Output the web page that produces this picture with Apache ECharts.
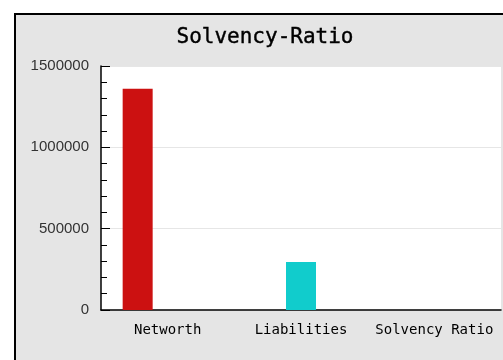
<!DOCTYPE html>
<html>
<head>
<meta charset="utf-8">
<script src="https://cdn.jsdelivr.net/npm/echarts@6/dist/echarts.min.js"></script>
<style>
  html, body { margin: 0; padding: 0; background: #ffffff; }
  #chart { width: 503px; height: 360px; }
</style>
</head>
<body>
<div id="chart"></div>
<script>
// Category names along the x axis
const categories = ['Networth', 'Liabilities', 'Solvency Ratio'];
// One series per measure; each holds a value only in its own category
const networthValues = [1360000, null, null];
const liabilityValues = [null, 295000, null];
const ratioValues = [null, null, 4.61];
// Y axis range and step
const yMin = 0;
const yMax = 1500000;
const yStep = 500000;

const chart = echarts.init(document.getElementById('chart'), null, { renderer: 'canvas' });

const mono = 'DejaVu Sans Mono';

chart.setOption({
  backgroundColor: '#ffffff',
  animation: false,
  graphic: [{
    type: 'rect',
    z: -10,
    shape: { x: 15, y: 14, width: 500, height: 360 },
    style: { fill: '#e5e5e5', stroke: '#000000', lineWidth: 2 }
  }],
  title: {
    text: 'Solvency-Ratio',
    left: 260,
    top: 22,
    textAlign: 'center',
    textStyle: {
      fontFamily: mono, fontSize: 21, fontWeight: 'normal', color: '#000000',
      textBorderColor: '#000000', textBorderWidth: 0.4
    }
  },
  grid: {
    left: 101, top: 66, right: 2, bottom: 50,
    show: true, backgroundColor: '#ffffff', borderWidth: 0
  },
  xAxis: {
    type: 'category',
    data: categories,
    axisLine: { lineStyle: { color: '#000000', width: 1.5 } },
    axisTick: { inside: true, length: 7, alignWithLabel: false, lineStyle: { color: '#000000' } },
    axisLabel: { interval: 0, fontFamily: mono, fontSize: 14, color: '#000000', margin: 13 },
    splitLine: { show: false }
  },
  yAxis: {
    type: 'value',
    min: yMin, max: yMax, interval: yStep,
    axisLine: { show: true, lineStyle: { color: '#000000', width: 1.5 } },
    axisTick: { show: true, inside: true, length: 9, lineStyle: { color: '#000000' } },
    minorTick: { show: true, splitNumber: 5, length: 6, lineStyle: { color: '#000000' } },
    axisLabel: {
      fontFamily: 'Liberation Sans', fontSize: 15, color: '#333333', margin: 12,
      formatter: (v) => String(v)
    },
    splitLine: { show: true, lineStyle: { color: '#e6e6e6', width: 1 } }
  },
  series: [
    { name: 'Networth', type: 'bar', data: networthValues, barWidth: 30, barGap: '0%',
      itemStyle: { color: '#cc1111' } },
    { name: 'Liabilities', type: 'bar', data: liabilityValues, barWidth: 30, barGap: '0%',
      itemStyle: { color: '#11cccc' } },
    { name: 'Solvency Ratio', type: 'bar', data: ratioValues, barWidth: 30, barGap: '0%',
      itemStyle: { color: '#1111cc' } }
  ]
});
</script>
</body>
</html>
